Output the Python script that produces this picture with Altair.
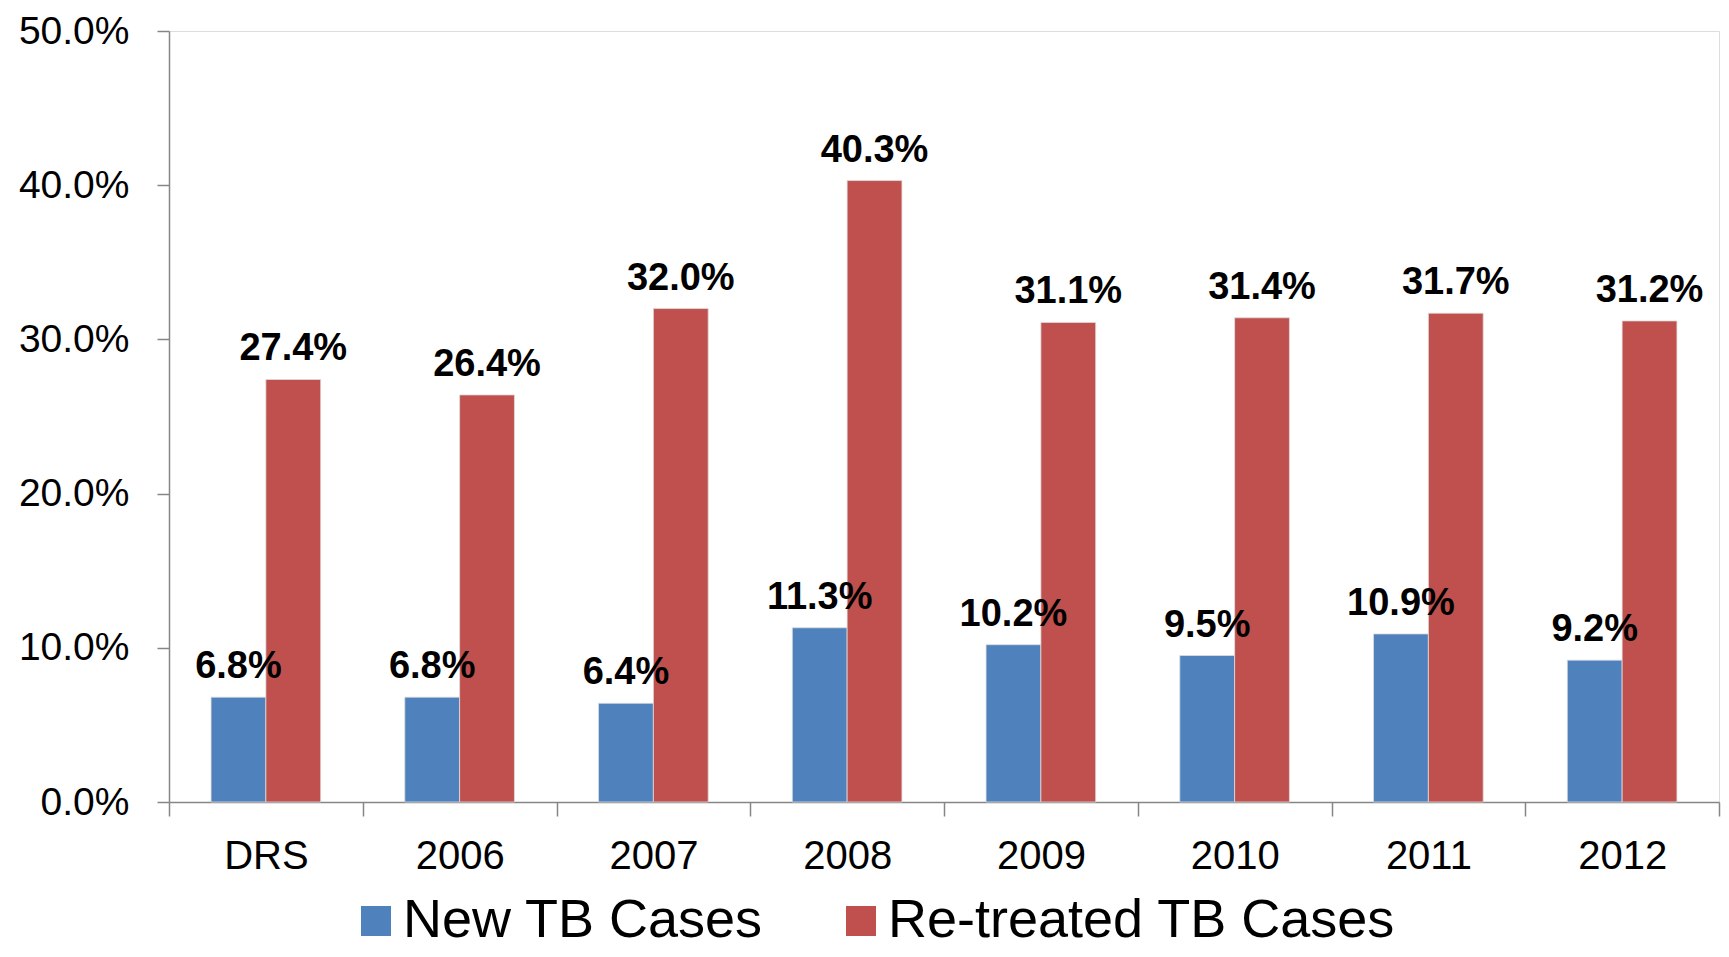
import altair as alt
import pandas as pd

categories = ["DRS", "2006", "2007", "2008", "2009", "2010", "2011", "2012"]
new_cases = [6.8, 6.8, 6.4, 11.3, 10.2, 9.5, 10.9, 9.2]
retreated = [27.4, 26.4, 32.0, 40.3, 31.1, 31.4, 31.7, 31.2]
series = ["New TB Cases", "Re-treated TB Cases"]
colors = ["#4F81BD", "#C0504D"]
y_ticks = [0, 10, 20, 30, 40, 50]

rows = []
for i, c in enumerate(categories):
    rows.append({"cat": c, "series": series[0], "value": new_cases[i]})
    rows.append({"cat": c, "series": series[1], "value": retreated[i]})
df = pd.DataFrame(rows)

FONT = "Liberation Sans"
AXIS_COLOR = "#868686"

x = alt.X(
    "cat:N",
    sort=categories,
    scale=alt.Scale(paddingInner=0, paddingOuter=0),
    axis=alt.Axis(
        title=None,
        labelAngle=0,
        tickBand="extent",
        tickSize=14,
        labelPadding=20,
        labelFontSize=40,
        labelFont=FONT,
        labelColor="black",
        domainColor=AXIS_COLOR,
        tickColor=AXIS_COLOR,
        domainWidth=1.5,
        tickWidth=1.5,
    ),
)
xoff = alt.XOffset(
    "series:N",
    sort=series,
    scale=alt.Scale(paddingInner=0, paddingOuter=0.767),
)
y = alt.Y(
    "value:Q",
    scale=alt.Scale(domain=[0, 50], nice=False),
    axis=alt.Axis(
        title=None,
        values=y_ticks,
        labelExpr="format(datum.value, '.1f') + '%'",
        grid=False,
        tickSize=12,
        labelPadding=28,
        labelFontSize=39,
        labelFont=FONT,
        labelColor="black",
        domainColor=AXIS_COLOR,
        tickColor=AXIS_COLOR,
        domainWidth=1.5,
        tickWidth=1.5,
    ),
)
color = alt.Color(
    "series:N",
    sort=series,
    scale=alt.Scale(domain=series, range=colors),
    legend=alt.Legend(
        title=None,
        orient="none",
        direction="horizontal",
        legendX=180,
        legendY=863,
        symbolType="square",
        symbolSize=900,
        symbolStrokeWidth=0,
        symbolOpacity=1,
        labelFontSize=54,
        labelFont=FONT,
        labelColor="black",
        labelLimit=0,
        labelOffset=0,
        columnPadding=70,
    ),
)

bars = alt.Chart(df).mark_bar(stroke="#dddddd", strokeWidth=0.8).encode(
    x=x, xOffset=xoff, y=y, color=color
)

labels = alt.Chart(df).transform_calculate(
    label="format(datum.value, '.1f') + '%'"
).mark_text(
    baseline="alphabetic",
    align="center",
    dy=-19,
    fontSize=38,
    fontWeight="bold",
    font=FONT,
    color="black",
).encode(
    x=alt.X("cat:N", sort=categories),
    xOffset=alt.XOffset("series:N", sort=series),
    y=alt.Y("value:Q"),
    text="label:N",
)

chart = (
    alt.layer(bars, labels)
    .properties(
        width=1550,
        height=771,
        autosize=alt.AutoSizeParams(type="none"),
        padding={"left": 161, "top": 23, "right": 2, "bottom": 146},
    )
    .configure_view(stroke=None)
    .configure(background="white")
)

chart.save("out.html", embed_options={"renderer": "svg", "actions": False})
